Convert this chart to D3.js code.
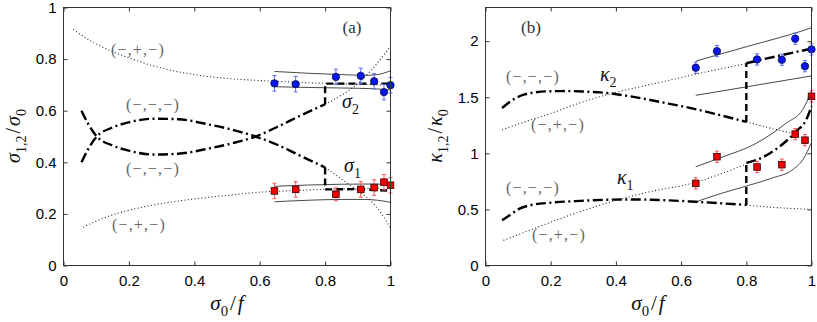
<!DOCTYPE html>
<html>
<head>
<meta charset="utf-8">
<script src="https://cdn.jsdelivr.net/npm/d3@7"></script>
<style>
  body { margin: 0; background: #fff; }
  svg { display: block; }
  .tick text { font-family: "Liberation Sans", Arial, sans-serif; font-size: 15px; fill: #000; }
  .tick line { stroke: #333; }
  .domain { display: none; }
  .box { fill: none; stroke: #333; stroke-width: 1; }
  .note { font-family: "Liberation Serif", "DejaVu Serif", serif; font-size: 16px; fill: #666; letter-spacing: 1.2px; }
  .math { font-family: "Liberation Serif", "DejaVu Serif", serif; fill: #111; }
  .dashdot { fill: none; stroke: #000; stroke-width: 2.4; stroke-dasharray: 10 3.5 2 3.5; }
  .dashed { fill: none; stroke: #000; stroke-width: 2.4; stroke-dasharray: 7 4; }
  .dotted { fill: none; stroke: #222; stroke-width: 1.1; stroke-dasharray: 1 2.4; }
  .solid { fill: none; stroke: #333; stroke-width: 0.9; }
</style>
</head>
<body>
<div id="chart"></div>
<script>
// ---- data ----
var xTicks = [0, 0.2, 0.4, 0.6, 0.8, 1];
var xTickLabels = ["0", "0.2", "0.4", "0.6", "0.8", "1"];
var aYTicks = [0, 0.2, 0.4, 0.6, 0.8, 1];
var aYTickLabels = ["0", "0.2", "0.4", "0.6", "0.8", "1"];
var bYTicks = [0, 0.5, 1, 1.5, 2];
var bYTickLabels = ["0", "0.5", "1", "1.5", "2"];

// measured points (same x for all four sets)
var ptX = [0.645, 0.71, 0.833, 0.909, 0.95, 0.98, 1.0];
var aBlueY = [0.706, 0.703, 0.731, 0.735, 0.714, 0.672, 0.699];
var aBlueErr = [0.03, 0.03, 0.03, 0.03, 0.03, 0.03, 0.03];
var aRedY = [0.289, 0.295, 0.276, 0.295, 0.302, 0.323, 0.311];
var aRedErr = [0.03, 0.03, 0.025, 0.03, 0.03, 0.03, 0.03];
var bBlueY = [1.763, 1.911, 1.837, 1.834, 2.022, 1.777, 1.927];
var bBlueErr = [0.05, 0.05, 0.05, 0.05, 0.05, 0.05, 0.05];
var bRedY = [0.732, 0.97, 0.878, 0.899, 1.171, 1.117, 1.508];
var bRedErr = [0.05, 0.05, 0.05, 0.05, 0.05, 0.05, 0.05];

// panel (a) curves
var aDotUpX = [0.03, 0.08, 0.13, 0.2, 0.3, 0.4, 0.5, 0.6, 0.7, 0.8, 0.9, 0.97];
var aDotUpY = [0.915, 0.873, 0.84, 0.805, 0.765, 0.74, 0.725, 0.717, 0.711, 0.706, 0.703, 0.70];
var aDotLoX = [0.06, 0.1, 0.15, 0.2, 0.3, 0.4, 0.5, 0.6, 0.7, 0.8, 0.9, 0.97];
var aDotLoY = [0.148, 0.172, 0.196, 0.214, 0.24, 0.258, 0.272, 0.284, 0.29, 0.295, 0.298, 0.30];
var aDotS2X = [0.8, 0.85, 0.9, 0.95, 1.0];
var aDotS2Y = [0.625, 0.66, 0.705, 0.77, 0.85];
var aDotS1X = [0.8, 0.85, 0.9, 0.94, 0.97, 1.0];
var aDotS1Y = [0.38, 0.335, 0.29, 0.25, 0.205, 0.145];
var aDdS2X = [0.055, 0.075, 0.1, 0.15, 0.2, 0.275, 0.35, 0.45, 0.52, 0.585, 0.65, 0.72, 0.8];
var aDdS2Y = [0.60, 0.55, 0.503, 0.465, 0.445, 0.43, 0.433, 0.455, 0.475, 0.499, 0.535, 0.578, 0.625];
var aDdS1X = [0.055, 0.075, 0.1, 0.15, 0.2, 0.275, 0.35, 0.45, 0.52, 0.585, 0.65, 0.72, 0.8];
var aDdS1Y = [0.40, 0.45, 0.497, 0.535, 0.555, 0.569, 0.567, 0.545, 0.525, 0.501, 0.47, 0.428, 0.38];
var aJumpS2X = [0.8, 0.8, 1.0];
var aJumpS2Y = [0.625, 0.705, 0.705];
var aJumpS1X = [0.8, 0.8, 0.9, 1.0];
var aJumpS1Y = [0.38, 0.295, 0.296, 0.29];
var aSolA_X = [0.645, 0.75, 0.85, 0.92, 0.96, 1.0];
var aSolA_Y = [0.752, 0.745, 0.74, 0.737, 0.74, 0.755];
var aSolB_X = [0.645, 0.75, 0.85, 0.95, 1.0];
var aSolB_Y = [0.693, 0.69, 0.688, 0.685, 0.68];
var aSolC_X = [0.645, 0.75, 0.85, 0.95, 1.0];
var aSolC_Y = [0.307, 0.312, 0.315, 0.316, 0.314];
var aSolD_X = [0.645, 0.75, 0.85, 0.92, 0.96, 1.0];
var aSolD_Y = [0.247, 0.253, 0.256, 0.256, 0.253, 0.245];

// panel (b) curves
var bDdK2X = [0.051, 0.08, 0.117, 0.15, 0.189, 0.25, 0.3, 0.372, 0.45, 0.55, 0.65, 0.72, 0.8];
var bDdK2Y = [1.404, 1.47, 1.523, 1.542, 1.553, 1.555, 1.551, 1.538, 1.505, 1.45, 1.39, 1.34, 1.28];
var bJumpK2X = [0.8, 0.8];
var bJumpK2Y = [1.28, 1.803];
var bDdK2hiX = [0.8, 0.9, 1.0];
var bDdK2hiY = [1.803, 1.87, 1.933];
var bDotK2X = [0.051, 0.12, 0.189, 0.28, 0.392, 0.5, 0.596, 0.7, 0.8];
var bDotK2Y = [1.21, 1.28, 1.344, 1.44, 1.538, 1.61, 1.673, 1.74, 1.80];
var bDotK2tailX = [0.8, 0.88, 0.96];
var bDotK2tailY = [1.28, 1.22, 1.165];
var bDdK1X = [0.051, 0.08, 0.1, 0.138, 0.2, 0.29, 0.443, 0.55, 0.645, 0.72, 0.8];
var bDdK1Y = [0.403, 0.46, 0.5, 0.538, 0.56, 0.576, 0.589, 0.582, 0.568, 0.555, 0.54];
var bJumpK1X = [0.8, 0.8];
var bJumpK1Y = [0.54, 0.915];
var bDdK1hiX = [0.8, 0.831, 0.902, 0.953, 0.984, 1.0];
var bDdK1hiY = [0.915, 0.94, 1.06, 1.195, 1.30, 1.42];
var bDotK1X = [0.055, 0.15, 0.25, 0.4, 0.5, 0.643, 0.72, 0.8];
var bDotK1Y = [0.224, 0.33, 0.44, 0.58, 0.655, 0.74, 0.815, 0.905];
var bDotK1tailX = [0.8, 0.9, 1.0];
var bDotK1tailY = [0.538, 0.515, 0.50];
var bSolA_X = [0.645, 0.8, 0.9, 0.97, 1.0];
var bSolA_Y = [1.822, 1.95, 2.03, 2.09, 2.12];
var bSolB_X = [0.645, 1.0];
var bSolB_Y = [1.517, 1.69];
var bSolC_X = [0.645, 0.72, 0.831, 0.923, 0.973, 1.0];
var bSolC_Y = [0.88, 0.96, 1.09, 1.27, 1.39, 1.553];
var bSolD_X = [0.645, 0.72, 0.8, 0.88, 0.94, 0.975, 1.0];
var bSolD_Y = [0.567, 0.64, 0.708, 0.78, 0.85, 0.95, 1.096];

var width = 817;
var height = 322;

var svg = d3.select("#chart").append("svg")
  .attr("width", width)
  .attr("height", height);
svg.append("rect").attr("width", width).attr("height", height).attr("fill", "#fff");

var smooth = d3.curveMonotoneX;
var straight = d3.curveLinear;

function curve(g, x, y, xs, ys, cls, kind) {
  var line = d3.line()
    .x(d => x(d[0]))
    .y(d => y(d[1]))
    .curve(kind || smooth);
  g.append("path").datum(d3.zip(xs, ys)).attr("class", cls).attr("d", line);
}

// sigma/kappa style label with subscripts
function mathText(g, px, py, parts, size, anchor, rot) {
  var t = g.append("text")
    .attr("class", "math")
    .attr("text-anchor", anchor || "start")
    .style("font-size", size + "px");
  if (rot) t.attr("transform", "translate(" + px + "," + py + ") rotate(" + rot + ")");
  else t.attr("x", px).attr("y", py);
  var shift = 0;
  parts.forEach(function (p) {
    var want = p.sub ? size * 0.3 : 0;
    var s = t.append("tspan").attr("dy", want - shift).text(p.t);
    shift = want;
    if (p.sub) s.style("font-size", (size * 0.7) + "px").style("font-style", "normal");
    else if (p.it) s.style("font-style", "italic");
    if (p.gap) s.attr("dx", p.gap);
  });
  return t;
}

function errorBars(g, x, y, ys, errs, col) {
  var pts = d3.zip(ptX, ys, errs);
  g.selectAll(null).data(pts).enter().append("path")
    .attr("fill", "none")
    .attr("stroke", col)
    .attr("stroke-width", 1)
    .attr("d", function (d) {
      var cx = x(d[0]), t = y(d[1] + d[2]), b = y(d[1] - d[2]);
      return "M" + cx + "," + t + "V" + b +
        "M" + (cx - 2) + "," + t + "H" + (cx + 2) +
        "M" + (cx - 2) + "," + b + "H" + (cx + 2);
    });
}

function circles(g, x, y, ys) {
  g.selectAll(null).data(d3.zip(ptX, ys)).enter().append("circle")
    .attr("cx", d => x(d[0]))
    .attr("cy", d => y(d[1]))
    .attr("r", 3.7)
    .attr("fill", "#0a14f0")
    .attr("stroke", "#00104a")
    .attr("stroke-width", 0.8);
}

function squares(g, x, y, ys) {
  g.selectAll(null).data(d3.zip(ptX, ys)).enter().append("rect")
    .attr("x", d => x(d[0]) - 3.3)
    .attr("y", d => y(d[1]) - 3.3)
    .attr("width", 6.6)
    .attr("height", 6.6)
    .attr("fill", "#f00000")
    .attr("stroke", "#3a0000")
    .attr("stroke-width", 0.8);
}

function frame(g, x, y, yTicks, yLabels) {
  var x0 = x.range()[0], x1 = x.range()[1];
  var y0 = y.range()[0], y1 = y.range()[1];
  g.append("g").attr("transform", "translate(0," + y0 + ")")
    .call(d3.axisBottom(x).tickValues(xTicks).tickSize(-4).tickPadding(10)
      .tickFormat((d, i) => xTickLabels[i]));
  g.append("g").attr("transform", "translate(0," + y1 + ")")
    .call(d3.axisTop(x).tickValues(xTicks).tickSize(-4).tickFormat(""));
  g.append("g").attr("transform", "translate(" + x0 + ",0)")
    .call(d3.axisLeft(y).tickValues(yTicks).tickSize(-4).tickPadding(7)
      .tickFormat((d, i) => yLabels[i]));
  g.append("g").attr("transform", "translate(" + x1 + ",0)")
    .call(d3.axisRight(y).tickValues(yTicks).tickSize(-4).tickFormat(""));
  g.append("rect").attr("class", "box")
    .attr("x", x0).attr("y", y1)
    .attr("width", x1 - x0).attr("height", y0 - y1);
}

function note(g, px, py, txt) {
  g.append("text").attr("class", "note").attr("x", px).attr("y", py)
    .attr("text-anchor", "middle").text(txt);
}

// ---------- panel (a) ----------
var ga = svg.append("g");
var xa = d3.scaleLinear().domain([0, 1]).range([63.5, 390.5]);
var ya = d3.scaleLinear().domain([0, 1]).range([265.5, 7.5]);

curve(ga, xa, ya, aDotUpX, aDotUpY, "dotted");
curve(ga, xa, ya, aDotLoX, aDotLoY, "dotted");
curve(ga, xa, ya, aDotS2X, aDotS2Y, "dotted");
curve(ga, xa, ya, aDotS1X, aDotS1Y, "dotted");
curve(ga, xa, ya, aSolA_X, aSolA_Y, "solid");
curve(ga, xa, ya, aSolB_X, aSolB_Y, "solid");
curve(ga, xa, ya, aSolC_X, aSolC_Y, "solid");
curve(ga, xa, ya, aSolD_X, aSolD_Y, "solid");
curve(ga, xa, ya, aDdS2X, aDdS2Y, "dashdot");
curve(ga, xa, ya, aDdS1X, aDdS1Y, "dashdot");
curve(ga, xa, ya, aJumpS2X, aJumpS2Y, "dashed", straight);
curve(ga, xa, ya, aJumpS1X, aJumpS1Y, "dashed", straight);

errorBars(ga, xa, ya, aBlueY, aBlueErr, "#5a6cff");
errorBars(ga, xa, ya, aRedY, aRedErr, "#ff5555");
circles(ga, xa, ya, aBlueY);
squares(ga, xa, ya, aRedY);

frame(ga, xa, ya, aYTicks, aYTickLabels);

note(ga, 138, 55, "(\u2212,+,\u2212)");
note(ga, 153, 110, "(\u2212,\u2212,\u2212)");
note(ga, 153, 174, "(\u2212,\u2212,\u2212)");
note(ga, 139, 230, "(\u2212,+,\u2212)");
ga.append("text").attr("class", "note").attr("x", 352).attr("y", 33)
  .attr("text-anchor", "middle").style("fill", "#333").style("letter-spacing", "0px")
  .style("font-size", "17px").text("(a)");
mathText(ga, 342, 108, [{ t: "\u03c3", it: true }, { t: "2", sub: true }], 20);
mathText(ga, 344, 172, [{ t: "\u03c3", it: true }, { t: "1", sub: true }], 20);

mathText(ga, 227, 310, [{ t: "\u03c3", it: true }, { t: "0", sub: true },
  { t: "/", gap: 2 }, { t: "f", it: true, gap: 2 }], 21, "middle");
mathText(ga, 20, 136, [{ t: "\u03c3", it: true }, { t: "1,2", sub: true },
  { t: "/", gap: 2 }, { t: "\u03c3", it: true, gap: 2 }, { t: "0", sub: true }], 20, "middle", -90);

// ---------- panel (b) ----------
var gb = svg.append("g");
var xb = d3.scaleLinear().domain([0, 1]).range([485.5, 811.5]);
var yb = d3.scaleLinear().domain([0, 2.3]).range([265.5, 7.5]);

curve(gb, xb, yb, bDotK2X, bDotK2Y, "dotted");
curve(gb, xb, yb, bDotK2tailX, bDotK2tailY, "dotted");
curve(gb, xb, yb, bDotK1X, bDotK1Y, "dotted");
curve(gb, xb, yb, bDotK1tailX, bDotK1tailY, "dotted");
curve(gb, xb, yb, bSolA_X, bSolA_Y, "solid");
curve(gb, xb, yb, bSolB_X, bSolB_Y, "solid");
curve(gb, xb, yb, bSolC_X, bSolC_Y, "solid");
curve(gb, xb, yb, bSolD_X, bSolD_Y, "solid");
curve(gb, xb, yb, bDdK2X, bDdK2Y, "dashdot");
curve(gb, xb, yb, bDdK2hiX, bDdK2hiY, "dashdot");
curve(gb, xb, yb, bJumpK2X, bJumpK2Y, "dashed", straight);
curve(gb, xb, yb, bDdK1X, bDdK1Y, "dashdot");
curve(gb, xb, yb, bDdK1hiX, bDdK1hiY, "dashdot");
curve(gb, xb, yb, bJumpK1X, bJumpK1Y, "dashed", straight);

errorBars(gb, xb, yb, bBlueY, bBlueErr, "#5a6cff");
errorBars(gb, xb, yb, bRedY, bRedErr, "#ff5555");
circles(gb, xb, yb, bBlueY);
squares(gb, xb, yb, bRedY);

frame(gb, xb, yb, bYTicks, bYTickLabels);

note(gb, 533, 82, "(\u2212,\u2212,\u2212)");
note(gb, 558, 130, "(\u2212,+,\u2212)");
note(gb, 533, 193, "(\u2212,\u2212,\u2212)");
note(gb, 559, 240, "(\u2212,+,\u2212)");
gb.append("text").attr("class", "note").attr("x", 531).attr("y", 33)
  .attr("text-anchor", "middle").style("fill", "#333").style("letter-spacing", "0px")
  .style("font-size", "17px").text("(b)");
mathText(gb, 600, 81, [{ t: "\u03ba", it: true }, { t: "2", sub: true }], 20);
mathText(gb, 617, 184, [{ t: "\u03ba", it: true }, { t: "1", sub: true }], 20);

mathText(gb, 648, 310, [{ t: "\u03c3", it: true }, { t: "0", sub: true },
  { t: "/", gap: 2 }, { t: "f", it: true, gap: 2 }], 21, "middle");
mathText(gb, 442, 136, [{ t: "\u03ba", it: true }, { t: "1,2", sub: true },
  { t: "/", gap: 2 }, { t: "\u03ba", it: true, gap: 2 }, { t: "0", sub: true }], 20, "middle", -90);
</script>
</body>
</html>
